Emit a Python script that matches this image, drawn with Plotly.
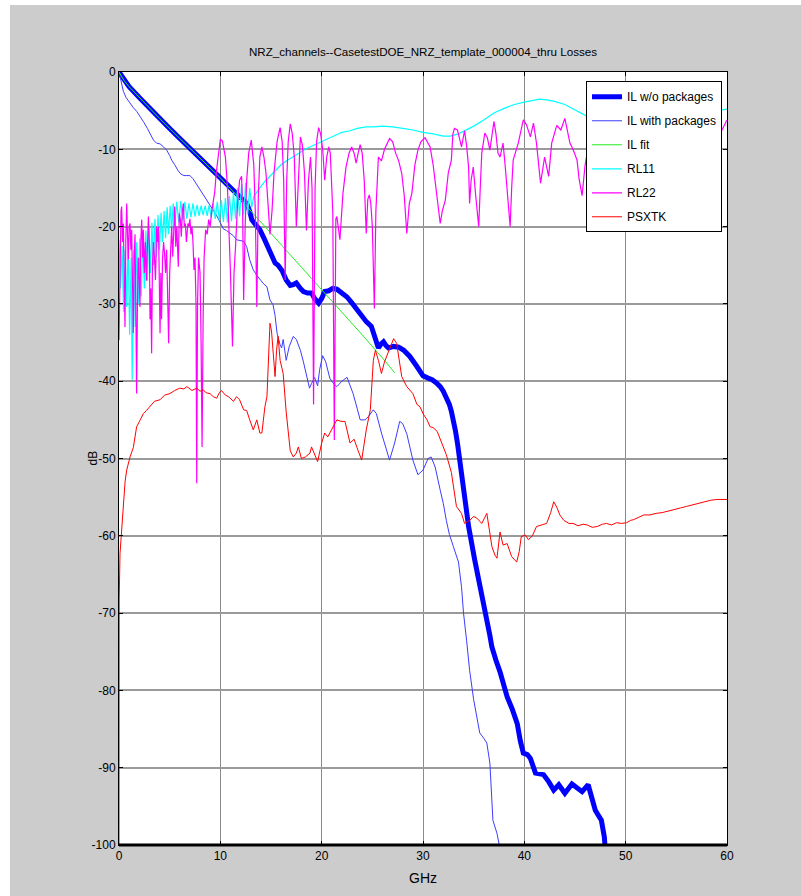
import plotly.graph_objects as go

TITLE = "NRZ_channels--CasetestDOE_NRZ_template_000004_thru Losses"
X_LABEL = "GHz"
Y_LABEL = "dB"
X_TICKS = [0, 10, 20, 30, 40, 50, 60]
X_TICKTEXT = ["0", "10", "20", "30", "40", "50", "60"]
Y_TICKS = [0, -10, -20, -30, -40, -50, -60, -70, -80, -90, -100]
Y_TICKTEXT = ["0", "-10", "-20", "-30", "-40", "-50", "-60", "-70", "-80", "-90", "-100"]

# ---- IL w/o packages (thick blue)
il_wo_f = [0, 1, 2, 3, 4, 5, 6, 7, 8, 9, 10, 11, 12, 12.6, 12.9, 13.1, 13.5, 13.9, 14.3, 14.9,
           15.4, 15.7, 16.1, 16.5, 16.9, 17.2, 17.5, 17.9, 18.2, 18.6, 19.0, 19.3, 19.7, 20.0,
           20.3, 20.7, 21.1, 21.5, 22.0, 22.5, 23.0, 23.5, 24.0, 24.4, 24.9, 25.2, 25.4, 25.6,
           25.85, 26.1, 26.35, 26.6, 27.1, 27.6, 28.1, 28.7, 29.4, 30.0, 30.5, 30.9, 31.3, 31.7,
           32.0, 32.3, 32.6, 32.8, 33.0, 33.2, 33.4, 33.6, 33.8, 34.0, 34.5, 35.1, 35.8, 36.4,
           36.6, 36.8, 37.0, 37.2, 37.6, 38.0, 38.3, 38.8, 39.3, 39.6, 39.9, 40.3, 40.6, 41.1,
           41.5, 41.9, 42.4, 42.9, 43.4, 44.0, 44.7, 45.2, 45.7, 46.3, 46.6, 47.0, 47.6, 47.9,
           48.0]
il_wo_db = [0, -1.9, -3.3, -4.7, -6.0, -7.3, -8.6, -9.9, -11.1, -12.4, -13.8, -15.1, -16.3, -17.0,
            -18.0, -19.1, -19.8, -20.4, -21.5, -23.2, -24.7, -25.0, -25.7, -26.9, -27.6, -27.5,
            -27.3, -28.0, -28.4, -28.6, -28.6, -29.3, -29.9, -29.3, -28.4, -28.3, -28.0, -28.1,
            -28.6, -29.1, -29.9, -30.8, -31.6, -32.3, -32.9, -34.0, -34.7, -35.7, -35.2, -34.9,
            -35.4, -35.7, -35.5, -35.6, -36.0, -36.8, -38.1, -39.3, -39.6, -39.8, -40.2, -40.7,
            -41.3, -42.0, -43.0, -43.9, -45.0, -46.4, -48.0, -50.0, -52.3, -54.7, -58.8, -63.1,
            -67.4, -71.3, -72.9, -74.4, -75.4, -76.1, -77.6, -79.4, -80.8, -82.4, -84.3, -86.5,
            -88.1, -88.3, -88.8, -90.7, -90.8, -90.9, -91.8, -92.9, -92.2, -93.3, -92.1, -92.7,
            -93.1, -92.2, -93.5, -95.5, -96.8, -99.0, -101.0]

# ---- IL with packages (thin blue)
il_with_f = [0, 0.2, 0.43, 0.7, 1.1, 1.4, 1.75, 2.1, 2.4, 2.8, 3.1, 3.4, 3.7, 4.05, 4.4, 4.7, 5.0,
             5.2, 5.5, 5.8, 6.1, 6.4, 6.7, 7.0, 7.3, 7.7, 8.0, 8.3, 8.65, 9.0, 9.3, 9.6, 10.0,
             10.3, 10.6, 11.0, 11.3, 11.6, 12.0, 12.3, 12.6, 12.9, 13.25, 13.6, 14.2, 14.6, 14.9,
             15.2, 15.4, 15.6, 15.9, 16.05, 16.2, 16.5, 16.8, 17.2, 17.5, 17.9, 18.2, 18.5, 18.8,
             19.0, 19.3, 19.6, 19.8, 20.1, 20.4, 20.8, 21.1, 21.5, 22.0, 22.5, 23.1, 23.5, 23.8,
             24.3, 24.6, 25.1, 25.4, 25.9, 26.4, 26.7, 27.2, 27.7, 28.0, 28.4, 29.0, 29.5, 30.0,
             30.5, 30.8, 31.2, 31.7, 32.0, 32.3, 32.6, 33.0, 33.5, 33.8, 34.0, 34.3, 34.6, 35.0,
             35.3, 35.6, 36.0, 36.3, 36.6, 36.8, 36.9, 37.3, 37.6]
il_with_db = [0, -1.3, -2.5, -3.3, -4.1, -4.6, -5.1, -5.9, -6.4, -7.3, -8.0, -8.8, -9.2, -9.3,
              -9.7, -10.1, -10.8, -11.4, -12.0, -12.7, -13.2, -13.4, -13.4, -13.4, -13.8, -14.6,
              -15.2, -15.8, -16.6, -17.3, -17.9, -18.5, -19.5, -20.3, -20.5, -20.9, -21.2, -21.7,
              -21.8, -21.9, -22.6, -24.3, -25.6, -26.3, -27.3, -27.8, -29.5, -30.1, -31.5, -33.8,
              -35.3, -35.7, -34.6, -37.3, -35.5, -34.2, -34.6, -36.0, -37.5, -39.2, -40.9, -40.3,
              -39.5, -40.6, -38.5, -36.7, -37.5, -39.6, -40.2, -40.7, -40.0, -39.5, -41.6, -43.5,
              -45.0, -45.0, -44.6, -43.7, -44.2, -46.7, -48.9, -50.2, -48.0, -45.2, -45.5, -46.8,
              -50.2, -52.1, -51.5, -50.0, -49.8, -51.1, -54.1, -55.8, -58.0, -59.8, -61.4, -63.4,
              -66.6, -70.0, -73.5, -77.4, -81.2, -83.5, -85.5, -86.2, -86.8, -89.4, -94.0, -96.8,
              -98.5, -100.5]

# ---- IL fit (green)
il_fit_f = [0, 0.5, 1, 2, 4, 6, 8, 10, 12, 14, 16, 18, 20, 22, 24, 26, 27.2]
il_fit_db = [0, -1.1, -1.9, -3.3, -6.0, -8.6, -11.1, -13.7, -16.5, -19.4, -22.4, -25.3, -28.2,
             -31.1, -34.0, -37.0, -38.9]

# ---- RL11 (cyan)
rl11_f = [0.0, 0.15, 0.3, 0.45, 0.6, 0.75, 0.9, 1.05, 1.2, 1.3, 1.45, 1.6, 1.75, 1.9, 2.05, 2.2,
          2.35, 2.5, 2.65, 2.8, 2.95, 3.1, 3.25, 3.4, 3.55, 3.7, 3.85, 4.0, 4.15, 4.3, 4.45, 4.6,
          4.75, 4.9, 5.05, 5.2, 5.35, 5.5, 5.7, 5.9, 6.1, 6.3, 6.5, 6.7, 6.9, 7.1, 7.3, 7.5, 7.7,
          7.9, 8.1, 8.3, 8.5, 8.7, 8.9, 9.1, 9.3, 9.5, 9.7, 9.9, 10.1, 10.3, 10.5, 10.7, 10.9,
          11.1, 11.3, 11.5, 11.7, 11.9, 12.1, 12.3, 12.5, 12.7, 12.9, 13.1, 13.3, 13.6, 14.0,
          14.5, 15.0, 15.5, 16.0, 16.5, 17.0, 17.5, 18.0, 18.5, 19.0, 19.5, 20.0, 20.5, 21.0,
          21.5, 22.0, 22.8, 23.5, 24.4, 25.1, 26.0, 27.0, 28.0, 29.0, 30.0, 31.0, 32.0, 32.7,
          33.5, 34.0, 35.0, 36.0, 37.0, 38.0, 39.0, 40.0, 41.0, 41.5, 42.2, 43.0, 44.0, 45.0,
          46.0, 47.0, 48.0, 49.0, 50.0, 51.0, 52.0, 53.0, 54.0, 55.0, 56.0, 57.0, 58.0, 59.0, 60.0]
rl11_db = [-21.7, -28.0, -22.5, -31.0, -23.0, -30.4, -22.0, -34.0, -24.0, -39.8, -23.0, -33.0,
           -22.0, -30.0, -21.5, -29.0, -21.0, -28.0, -20.5, -27.0, -20.0, -26.0, -19.5, -25.0,
           -19.0, -24.0, -18.5, -23.0, -18.2, -22.0, -18.0, -21.5, -17.5, -21.0, -17.3, -20.5,
           -17.0, -20.0, -16.8, -19.5, -16.7, -19.2, -16.8, -19.0, -17.0, -18.8, -17.0, -18.7,
           -17.2, -18.6, -17.3, -18.5, -17.3, -18.6, -17.2, -18.8, -17.0, -19.0, -16.8, -19.2,
           -16.6, -19.4, -16.3, -19.5, -16.0, -19.3, -15.6, -19.0, -15.0, -18.7, -14.5, -18.5,
           -14.3, -18.4, -15.0, -17.5, -16.1, -15.5, -14.8, -14.0, -13.3, -12.6, -12.0, -11.5,
           -11.1, -10.6, -10.2, -9.9, -9.6, -9.3, -8.9, -8.6, -8.3, -8.0, -7.8, -7.6, -7.3,
           -7.1, -7.1, -7.0, -7.1, -7.3, -7.5, -7.8, -8.0, -8.3, -8.3, -8.0, -7.7, -7.0, -6.2,
           -5.3, -4.7, -4.2, -3.9, -3.6, -3.5, -3.6, -3.8, -4.2, -4.9, -5.6, -6.4, -7.0, -7.5,
           -7.8, -7.9, -7.8, -7.5, -7.1, -6.6, -6.1, -5.6, -5.2, -5.0, -4.8]

# ---- RL22 (magenta)
rl22_f = [0.0, 0.1, 0.2, 0.26, 0.35, 0.43, 0.52, 0.59, 0.67, 0.76, 0.84, 0.92, 1.0, 1.09, 1.17,
          1.25, 1.33, 1.41, 1.5, 1.58, 1.66, 1.74, 1.82, 1.9, 2.0, 2.07, 2.15, 2.24, 2.33, 2.4,
          2.5, 2.6, 2.7, 2.8, 2.9, 3.0, 3.06, 3.14, 3.22, 3.3, 3.4, 3.5, 3.6, 3.72, 3.8, 3.9,
          3.98, 4.05, 4.13, 4.2, 4.3, 4.4, 4.5, 4.6, 4.7, 4.8, 4.9, 5.0, 5.1, 5.2, 5.3, 5.4, 5.5,
          5.6, 5.7, 5.85, 5.95, 6.05, 6.15, 6.25, 6.35, 6.45, 6.55, 6.65, 6.8, 6.9, 7.0, 7.1,
          7.2, 7.3, 7.4, 7.5, 7.6, 7.67, 7.75, 7.85, 8.0, 8.1, 8.2, 8.3, 8.4, 8.55, 8.7, 8.85,
          9.0, 9.15, 9.3, 9.45, 9.6, 9.8, 10.0, 10.2, 10.5, 10.7, 10.85, 11.0, 11.2, 11.35, 11.5,
          11.7, 11.9, 12.1, 12.2, 12.3, 12.45, 12.6, 12.8, 13.05, 13.3, 13.45, 13.6, 13.75, 13.9,
          14.1, 14.3, 14.5, 14.7, 14.9, 15.1, 15.3, 15.6, 15.9, 16.1, 16.25, 16.4, 16.55, 16.7,
          16.9, 17.1, 17.3, 17.5, 17.7, 17.9, 18.1, 18.3, 18.5, 18.7, 18.9, 19.05, 19.2, 19.35,
          19.5, 19.7, 19.9, 20.1, 20.3, 20.5, 20.7, 20.85, 21.0, 21.1, 21.25, 21.4, 21.5, 21.65,
          21.8, 22.1, 22.4, 22.7, 22.96, 23.2, 23.4, 23.6, 23.8, 24.0, 24.2, 24.4, 24.55, 24.7,
          24.85, 25.0, 25.2, 25.35, 25.6, 25.9, 26.2, 26.7, 27.0, 27.3, 27.6, 27.9, 28.15, 28.4,
          28.65, 28.9, 29.2, 29.5, 29.8, 30.2, 30.7, 31.0, 31.3, 31.5, 31.7, 31.9, 32.2, 32.5,
          32.8, 32.95, 33.1, 33.4, 33.8, 34.1, 34.3, 34.5, 34.6, 34.75, 34.96, 35.2, 35.5, 35.65,
          35.8, 36.1, 36.35, 36.6, 36.8, 37.0, 37.2, 37.4, 37.6, 37.9, 38.1, 38.3, 38.6, 38.75,
          38.9, 39.4, 39.9, 40.2, 40.6, 40.9, 41.2, 41.6, 42.0, 42.4, 42.7, 43.2, 43.6, 44.0,
          44.5, 44.8, 45.2, 45.4, 45.7, 46.0, 46.4, 46.9, 47.4, 47.8, 48.2, 48.6, 49.1, 49.6,
          50.1, 50.6, 51.0, 51.4, 51.9, 52.4, 52.9, 53.4, 53.8, 54.2, 54.7, 55.2, 55.7, 56.2,
          56.6, 57.0, 57.5, 58.0, 58.5, 59.0, 59.5, 60.0]
rl22_db = [-34.7, -24.0, -18.0, -17.4, -22.0, -19.6, -28.0, -33.0, -22.0, -17.0, -21.0, -24.3,
           -20.0, -19.6, -23.0, -20.4, -27.0, -33.8, -24.0, -21.0, -30.0, -41.6, -30.0, -24.0,
           -27.0, -30.4, -22.0, -19.1, -24.0, -20.4, -26.0, -22.0, -27.0, -21.0, -18.7, -22.6,
           -32.0, -28.0, -36.4, -25.0, -22.0, -24.0, -26.9, -20.0, -22.0, -20.0, -28.0, -33.8,
           -26.0, -32.0, -24.0, -22.0, -23.5, -26.0, -23.0, -29.0, -35.1, -26.0, -22.0, -20.0,
           -23.9, -21.0, -17.4, -22.6, -20.0, -25.2, -18.3, -19.0, -21.3, -18.0, -17.0, -20.0,
           -19.6, -22.0, -19.6, -20.0, -19.0, -21.0, -20.0, -22.0, -25.6, -24.0, -30.0, -53.2,
           -30.0, -24.0, -26.0, -35.0, -48.5, -32.0, -24.0, -20.4, -21.0, -19.1, -20.0, -18.0,
           -17.0, -15.5, -13.0, -11.0, -8.7, -8.9, -11.0, -14.8, -20.0, -26.0, -35.5, -26.0,
           -22.6, -17.0, -14.0, -13.5, -18.0, -29.5, -20.0, -14.0, -10.5, -8.8, -12.0, -18.0,
           -30.4, -16.0, -11.0, -9.7, -11.0, -13.0, -17.0, -21.0, -18.0, -13.0, -9.0, -7.2,
           -9.0, -14.0, -26.9, -14.0, -9.0, -6.7, -8.0, -11.0, -20.0, -13.0, -8.4, -9.5, -13.0,
           -20.5, -14.0, -11.0, -15.0, -43.0, -15.0, -9.0, -7.2, -8.0, -10.0, -14.0, -11.0,
           -9.7, -10.5, -15.0, -18.3, -47.6, -19.0, -18.7, -20.0, -21.7, -15.7, -12.3, -10.5,
           -9.7, -10.5, -11.8, -10.5, -9.4, -10.5, -14.0, -20.9, -16.5, -15.9, -17.0, -20.0,
           -30.6, -18.0, -11.0, -11.5, -10.0, -8.6, -9.0, -10.5, -11.5, -13.1, -16.0, -20.9,
           -17.0, -15.7, -12.0, -10.1, -9.0, -8.5, -9.7, -12.0, -15.0, -17.5, -19.6, -18.0,
           -16.6, -13.0, -11.4, -8.0, -7.3, -7.5, -9.7, -7.6, -9.5, -12.3, -17.0, -14.0, -12.3,
           -16.0, -20.0, -15.0, -10.5, -7.9, -8.5, -10.1, -8.5, -6.4, -8.0, -10.5, -11.0, -9.2,
           -12.0, -15.3, -20.0, -15.0, -11.4, -9.2, -6.2, -6.8, -8.4, -6.6, -9.2, -14.4, -11.0,
           -13.5, -9.2, -6.9, -7.5, -6.0, -9.2, -10.0, -11.4, -13.8, -16.0, -12.0, -9.0, -7.5,
           -9.0, -14.0, -20.0, -13.0, -9.0, -7.5, -8.5, -12.0, -17.0, -11.0, -8.0, -7.5, -9.0,
           -13.0, -19.0, -12.0, -8.5, -7.5, -8.5, -12.0, -16.0, -11.0, -8.0, -7.6, -9.0, -8.8,
           -7.5, -6.2]

# ---- PSXTK (red)
psxtk_f = [0, 0.02, 0.1, 0.26, 0.43, 0.6, 0.76, 1.09, 1.41, 1.74, 2.1, 2.4, 2.7, 3.06, 3.5, 4.05,
           4.5, 5.03, 5.5, 6.0, 6.4, 6.7, 7.2, 7.67, 8.0, 8.3, 8.6, 8.98, 9.3, 9.64, 9.9, 10.1,
           10.5, 10.8, 11.3, 11.6, 11.9, 12.3, 12.6, 12.9, 13.25, 13.6, 13.9, 14.1, 14.4, 14.6,
           14.75, 14.9, 15.05, 15.2, 15.4, 15.55, 15.7, 15.9, 16.2, 16.5, 16.9, 17.2, 17.5, 17.7,
           18.0, 18.4, 18.85, 19.0, 19.3, 19.6, 20.0, 20.3, 20.6, 21.0, 21.5, 21.9, 22.3, 22.8,
           23.2, 23.6, 23.95, 24.4, 24.8, 25.1, 25.3, 25.6, 25.9, 26.2, 26.4, 26.8, 27.1, 27.4,
           27.7, 27.9, 28.4, 29.0, 29.4, 29.7, 30.0, 30.4, 30.7, 31.0, 31.4, 31.8, 32.3, 32.8,
           33.0, 33.3, 33.8, 34.1, 34.6, 35.0, 35.3, 35.8, 36.3, 36.5, 36.8, 37.1, 37.3, 37.6,
           37.9, 38.3, 38.75, 39.25, 39.5, 39.7, 40.1, 40.4, 40.8, 41.2, 41.7, 42.2, 42.6, 42.9,
           43.2, 43.5, 43.9, 44.4, 44.8, 45.3, 45.8, 46.2, 46.7, 47.2, 47.7, 48.1, 48.6, 49.1,
           49.6, 50.1, 50.5, 50.8, 51.3, 51.8, 52.4, 53.0, 53.6, 54.2, 54.8, 55.4, 56.0, 56.6,
           57.2, 57.8, 58.4, 59.0, 60.0]
psxtk_db = [-100, -68.3, -62.3, -59.2, -55.4, -53.0, -51.5, -49.8, -48.6, -45.9, -45.0, -44.2,
            -43.8, -43.3, -42.6, -42.4, -41.8, -41.6, -41.2, -40.9, -41.0, -40.7, -41.2, -40.9,
            -41.3, -41.1, -41.5, -41.6, -42.0, -42.2, -41.5, -41.2, -41.8, -42.0, -42.6, -42.0,
            -42.4, -43.7, -43.8, -45.0, -46.3, -45.0, -46.7, -46.7, -43.3, -42.0, -37.5, -32.5,
            -33.5, -36.0, -39.4, -36.0, -34.2, -37.3, -39.0, -44.0, -49.0, -49.8, -49.3, -48.5,
            -50.0, -49.8, -49.3, -48.5, -49.5, -50.4, -48.0, -46.7, -47.2, -46.3, -45.0, -45.2,
            -45.2, -48.0, -47.5, -49.0, -50.2, -46.3, -43.7, -37.3, -36.0, -37.3, -39.0, -37.5,
            -36.8, -35.3, -34.5, -35.1, -38.0, -39.4, -40.7, -41.6, -43.0, -43.3, -44.2, -45.0,
            -45.9, -46.0, -46.5, -47.8, -49.5, -51.8, -53.5, -56.2, -57.1, -58.4, -58.0, -57.5,
            -57.7, -58.4, -57.1, -59.0, -61.4, -62.5, -62.9, -59.5, -61.2, -61.0, -62.7, -63.4,
            -62.0, -60.1, -59.9, -60.5, -60.0, -58.8, -58.6, -58.4, -57.0, -55.6, -56.3, -57.3,
            -58.0, -58.4, -58.4, -58.7, -58.5, -58.6, -58.9, -58.8, -58.5, -58.4, -58.6, -58.3,
            -58.4, -58.3, -58.0, -57.9, -57.6, -57.3, -57.3, -57.1, -57.0, -56.8, -56.5, -56.4,
            -56.2, -56.0, -55.8, -55.5, -55.4, -55.3, -55.3]

FONT = "Liberation Sans, Arial, sans-serif"

fig = go.Figure()
series = [
    ("IL w/o packages", il_wo_f, il_wo_db, "#0000ff", 5),
    ("IL with packages", il_with_f, il_with_db, "#3c3cff", 1),
    ("IL fit", il_fit_f, il_fit_db, "#22ee22", 1),
    ("RL11", rl11_f, rl11_db, "#00ffff", 1.2),
    ("RL22", rl22_f, rl22_db, "#ff00ff", 1.2),
    ("PSXTK", psxtk_f, psxtk_db, "#ff0000", 1),
]
for i, (name, fx, fy, col, w) in enumerate(series):
    fig.add_trace(go.Scatter(x=fx, y=fy, mode="lines", name=name,
                             line=dict(color=col, width=w), legendgroup=f"g{i}"))

fig.update_layout(
    width=801, height=896,
    margin=dict(l=119, r=74, t=72, b=51),
    paper_bgcolor="#cccccc",
    plot_bgcolor="white",
    font=dict(family=FONT, size=12, color="black"),
    title=dict(text=TITLE, x=423 / 801, xanchor="center", y=1 - 52 / 896, yanchor="middle",
               font=dict(family=FONT, size=11.6, color="black")),
    showlegend=True,
    legend=dict(x=0.9918, y=0.988, xanchor="right", yanchor="top",
                bgcolor="white", bordercolor="black", borderwidth=1,
                font=dict(family=FONT, size=12, color="black"),
                tracegroupgap=5, itemwidth=30),
    xaxis=dict(range=[0, 60], tickvals=X_TICKS, ticktext=X_TICKTEXT,
               showgrid=True, gridcolor="#8a8a8a", gridwidth=1,
               showline=True, linecolor="black", linewidth=1, mirror="ticks",
               ticks="inside", ticklen=4, tickcolor="black", zeroline=False,
               title=dict(text=X_LABEL, standoff=10)),
    yaxis=dict(range=[-100, 0], tickvals=Y_TICKS, ticktext=Y_TICKTEXT,
               showgrid=True, gridcolor="#9a9a9a", gridwidth=2,
               showline=True, linecolor="black", linewidth=1, mirror="ticks",
               ticks="inside", ticklen=4, tickcolor="black", zeroline=False),
    annotations=[
        dict(text=Y_LABEL, xref="paper", yref="paper", x=-(119 - 92) / 608, y=0.5,
             xanchor="center", yanchor="middle", textangle=-90, showarrow=False,
             font=dict(family=FONT, size=12, color="black")),
    ],
    shapes=[
        dict(type="line", xref="paper", yref="paper", x0=0, x1=1, y0=0, y1=0,
             line=dict(color="black", width=3), layer="above"),
        dict(type="rect", xref="paper", yref="paper", x0=-0.2, x1=1.2, y0=1.0867, y1=1.1,
             line=dict(width=0), fillcolor="white", layer="below"),
        dict(type="rect", xref="paper", yref="paper", x0=-0.2, x1=-0.1793, y0=-0.1, y1=1.1,
             line=dict(width=0), fillcolor="white", layer="below"),
    ],
)

fig.write_html("out.html")
